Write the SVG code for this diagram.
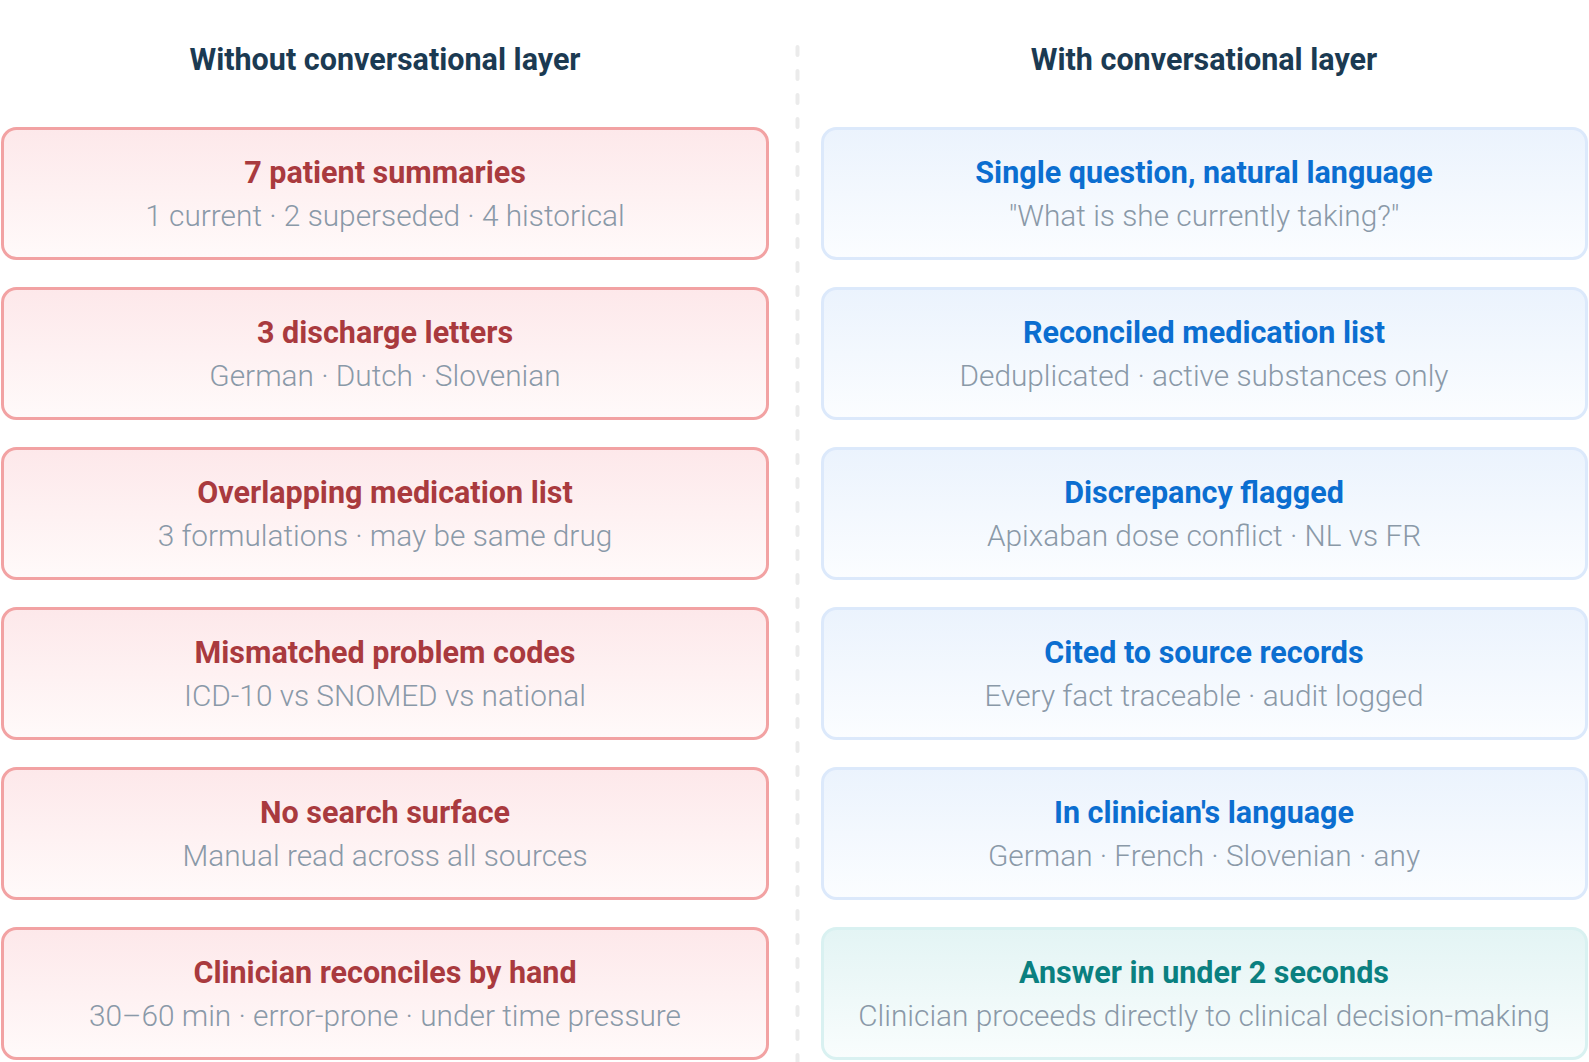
<svg xmlns="http://www.w3.org/2000/svg" width="1589" height="1062" viewBox="0 0 1589 1062">
<defs>
<linearGradient id="gRed" x1="0" y1="0" x2="0" y2="1"><stop offset="0" stop-color="#fde8ea"/><stop offset="1" stop-color="#fffafa"/></linearGradient>
<linearGradient id="gBlue" x1="0" y1="0" x2="0" y2="1"><stop offset="0" stop-color="#ebf3fd"/><stop offset="1" stop-color="#fbfdff"/></linearGradient>
<linearGradient id="gTeal" x1="0" y1="0" x2="0" y2="1"><stop offset="0" stop-color="#e3f4f4"/><stop offset="1" stop-color="#f9fdfd"/></linearGradient>
</defs>
<style>
.hdr{font-family:Roboto,"Liberation Sans",sans-serif;font-weight:700;font-size:30.5px;fill:#1b3a52;text-anchor:middle}
.t{font-family:Roboto,"Liberation Sans",sans-serif;font-weight:700;font-size:30.5px;text-anchor:middle}
.s{font-family:Roboto,"Liberation Sans",sans-serif;font-weight:300;font-size:29.8px;fill:#8a99a8;text-anchor:middle}
.red rect{fill:url(#gRed);stroke:#f2a2a3;stroke-width:3}
.red .t{fill:#a93a3e}
.blue rect{fill:url(#gBlue);stroke:#dce9fb;stroke-width:3}
.blue .t{fill:#0b6ed0}
.teal rect{fill:url(#gTeal);stroke:#d9f1f1;stroke-width:3}
.teal .t{fill:#0a8080}
</style>
<rect width="1589" height="1062" fill="#ffffff"/>
<g id="connectors">
<line x1="797.5" y1="47" x2="797.5" y2="1062" stroke="#ebebeb" stroke-width="4" stroke-linecap="round" stroke-dasharray="8 16"/>
</g>
<text class="hdr" x="385" y="70">Without conversational layer</text>
<text class="hdr" x="1204" y="70">With conversational layer</text>

<g id="l1" class="red"><rect x="2.5" y="128.5" width="765" height="130" rx="14"/><text class="t" x="385" y="183">7 patient summaries</text><text class="s" x="385" y="226">1 current · 2 superseded · 4 historical</text></g>
<g id="l2" class="red"><rect x="2.5" y="288.5" width="765" height="130" rx="14"/><text class="t" x="385" y="343">3 discharge letters</text><text class="s" x="385" y="386">German · Dutch · Slovenian</text></g>
<g id="l3" class="red"><rect x="2.5" y="448.5" width="765" height="130" rx="14"/><text class="t" x="385" y="503">Overlapping medication list</text><text class="s" x="385" y="546">3 formulations · may be same drug</text></g>
<g id="l4" class="red"><rect x="2.5" y="608.5" width="765" height="130" rx="14"/><text class="t" x="385" y="663">Mismatched problem codes</text><text class="s" x="385" y="706">ICD-10 vs SNOMED vs national</text></g>
<g id="l5" class="red"><rect x="2.5" y="768.5" width="765" height="130" rx="14"/><text class="t" x="385" y="823">No search surface</text><text class="s" x="385" y="866">Manual read across all sources</text></g>
<g id="l6" class="red"><rect x="2.5" y="928.5" width="765" height="130" rx="14"/><text class="t" x="385" y="983">Clinician reconciles by hand</text><text class="s" x="385" y="1026">30–60 min · error-prone · under time pressure</text></g>

<g id="r1" class="blue"><rect x="822.5" y="128.5" width="764" height="130" rx="14"/><text class="t" x="1204" y="183">Single question, natural language</text><text class="s" x="1204" y="226">"What is she currently taking?"</text></g>
<g id="r2" class="blue"><rect x="822.5" y="288.5" width="764" height="130" rx="14"/><text class="t" x="1204" y="343">Reconciled medication list</text><text class="s" x="1204" y="386">Deduplicated · active substances only</text></g>
<g id="r3" class="blue"><rect x="822.5" y="448.5" width="764" height="130" rx="14"/><text class="t" x="1204" y="503">Discrepancy flagged</text><text class="s" x="1204" y="546">Apixaban dose conflict · NL vs FR</text></g>
<g id="r4" class="blue"><rect x="822.5" y="608.5" width="764" height="130" rx="14"/><text class="t" x="1204" y="663">Cited to source records</text><text class="s" x="1204" y="706">Every fact traceable · audit logged</text></g>
<g id="r5" class="blue"><rect x="822.5" y="768.5" width="764" height="130" rx="14"/><text class="t" x="1204" y="823">In clinician's language</text><text class="s" x="1204" y="866">German · French · Slovenian · any</text></g>
<g id="r6" class="teal"><rect x="822.5" y="928.5" width="764" height="130" rx="14"/><text class="t" x="1204" y="983">Answer in under 2 seconds</text><text class="s" x="1204" y="1026">Clinician proceeds directly to clinical decision-making</text></g>
</svg>
